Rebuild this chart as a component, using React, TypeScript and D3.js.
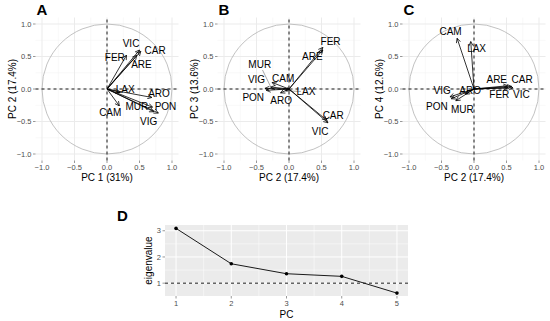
import React from 'react';
import * as d3 from 'd3';

// variable loadings on the first four PCs
const vars = ['VIC', 'CAR', 'FER', 'ARE', 'LAX', 'ARO', 'MUR', 'PON', 'VIG', 'CAM'];
const pc1 = [0.5, 0.52, 0.3, 0.46, 0.2, 0.69, 0.7, 0.72, 0.79, 0.19];
const pc2 = [0.6, 0.58, 0.52, 0.52, -0.05, -0.13, -0.28, -0.35, -0.37, -0.26];
const pc3 = [-0.52, -0.48, 0.64, 0.6, -0.03, -0.06, 0.03, -0.02, 0.01, 0.1];
const pc4 = [0.02, 0.04, 0.02, 0.05, 0.73, -0.08, -0.18, -0.15, -0.12, 0.78];

// text label anchor points (data units) for each panel
const labelsA = [[0.37, 0.7], [0.74, 0.59], [0.12, 0.49], [0.53, 0.38], [0.28, 0.0], [0.8, -0.07], [0.46, -0.27], [0.9, -0.27], [0.64, -0.5], [0.05, -0.36]];
const labelsB = [[0.48, -0.66], [0.68, -0.4], [0.64, 0.73], [0.36, 0.5], [0.26, -0.04], [-0.12, -0.18], [-0.45, 0.38], [-0.55, -0.13], [-0.5, 0.14], [-0.09, 0.16]];
const labelsC = [[0.73, -0.09], [0.74, 0.14], [0.39, -0.08], [0.35, 0.14], [0.04, 0.62], [-0.06, -0.03], [-0.18, -0.31], [-0.57, -0.27], [-0.49, -0.03], [-0.36, 0.88]];

// scree plot
const pcs = [1, 2, 3, 4, 5];
const eigenvalues = [3.09, 1.74, 1.36, 1.26, 0.62];

const FONT = 'Liberation Sans, Arial, sans-serif';
const ticks = [-1, -0.5, 0, 0.5, 1];
const minorTicks = [-0.75, -0.25, 0.25, 0.75];

type BiplotProps = {
  id: string;
  letter: string;
  cx: number;
  xs: number[];
  ys: number[];
  labels: number[][];
  xTitle: string;
  yTitle: string;
};

const Biplot = ({ id, letter, cx, xs, ys, labels, xTitle, yTitle }: BiplotProps) => {
  const x = d3.scaleLinear().domain([-1.1, 1.1]).range([cx - 71.5, cx + 71.5]);
  const y = d3.scaleLinear().domain([-1.1, 1.1]).range([160.5, 17.5]);
  const r = x(1) - x(0);
  const fmt = d3.format('.1f');
  return (
    <g>
      <defs>
        <marker id={`arr-${id}`} viewBox="0 0 10 10" refX="9" refY="5" markerWidth="5.5" markerHeight="5.5" orient="auto-start-reverse" markerUnits="userSpaceOnUse">
          <path d="M1,1 L9,5 L1,9" fill="none" stroke="#000" strokeWidth="1.3" />
        </marker>
      </defs>
      {minorTicks.map((t) => (
        <g key={`mi${t}`}>
          <line x1={x(t)} x2={x(t)} y1={y(-1.1)} y2={y(1.1)} stroke="#f0f0f0" strokeWidth={0.5} />
          <line x1={x(-1.1)} x2={x(1.1)} y1={y(t)} y2={y(t)} stroke="#f0f0f0" strokeWidth={0.5} />
        </g>
      ))}
      {ticks.map((t) => (
        <g key={`ma${t}`}>
          <line x1={x(t)} x2={x(t)} y1={y(-1.1)} y2={y(1.1)} stroke="#ebebeb" strokeWidth={1} />
          <line x1={x(-1.1)} x2={x(1.1)} y1={y(t)} y2={y(t)} stroke="#ebebeb" strokeWidth={1} />
        </g>
      ))}
      <circle cx={x(0)} cy={y(0)} r={r} fill="none" stroke="#b3b3b3" strokeWidth={0.8} />
      <line x1={x(0)} x2={x(0)} y1={y(-1.1)} y2={y(1.1)} stroke="#000" strokeWidth={0.9} strokeDasharray="3,3" />
      <line x1={x(-1.1)} x2={x(1.1)} y1={y(0)} y2={y(0)} stroke="#000" strokeWidth={0.9} strokeDasharray="3,3" />
      {xs.map((v, i) => {
        const lx = labels[i][0];
        const ly = labels[i][1];
        const d = Math.hypot(lx - v, ly - ys[i]);
        if (d < 0.3) return null;
        return (
          <line key={`seg${i}`} x1={x(lx + (v - lx) * 0.25)} y1={y(ly + (ys[i] - ly) * 0.25)} x2={x(v)} y2={y(ys[i])} stroke="#555" strokeWidth={0.5} />
        );
      })}
      {xs.map((v, i) => (
        <line key={`a${i}`} x1={x(0)} y1={y(0)} x2={x(v)} y2={y(ys[i])} stroke="#000" strokeWidth={0.8} markerEnd={`url(#arr-${id})`} />
      ))}
      {vars.map((name, i) => (
        <text key={`l${i}`} x={x(labels[i][0])} y={y(labels[i][1])} dy="0.35em" textAnchor="middle" fontSize={10} fontFamily={FONT} fill="#000">
          {name}
        </text>
      ))}
      {ticks.map((t) => (
        <g key={`tk${t}`}>
          <line x1={x(t)} x2={x(t)} y1={y(-1.1)} y2={y(-1.1) + 2.5} stroke="#333" strokeWidth={0.5} />
          <text x={x(t)} y={y(-1.1) + 9} textAnchor="middle" fontSize={7.5} fontFamily={FONT} fill="#4d4d4d">{fmt(t)}</text>
          <line x1={x(-1.1) - 2.5} x2={x(-1.1)} y1={y(t)} y2={y(t)} stroke="#333" strokeWidth={0.5} />
          <text x={x(-1.1) - 4} y={y(t)} dy="0.35em" textAnchor="end" fontSize={7.5} fontFamily={FONT} fill="#4d4d4d">{fmt(t)}</text>
        </g>
      ))}
      <text x={x(0)} y={181} textAnchor="middle" fontSize={10} fontFamily={FONT} fill="#000">{xTitle}</text>
      <text transform={`translate(${x(-1.1) - 20},${y(0)}) rotate(-90)`} textAnchor="middle" fontSize={10} fontFamily={FONT} fill="#000">{yTitle}</text>
      <text x={x(-1.1) + 1} y={15} fontSize={15} fontWeight="bold" fontFamily={FONT} fill="#000">{letter}</text>
    </g>
  );
};

const Scree = () => {
  const x = d3.scaleLinear().domain([0.8, 5.2]).range([165, 408]);
  const y = d3.scaleLinear().domain([0.51, 3.22]).range([296, 225]);
  const line = d3.line<number>().x((_, i) => x(pcs[i])).y((d) => y(d));
  const xMinor = [1.5, 2.5, 3.5, 4.5];
  const yMajor = [1, 2, 3];
  const yMinor = [1.5, 2.5];
  return (
    <g>
      <rect x={x(0.8)} y={y(3.22)} width={x(5.2) - x(0.8)} height={y(0.51) - y(3.22)} fill="#ebebeb" />
      {xMinor.map((t) => (
        <line key={`xm${t}`} x1={x(t)} x2={x(t)} y1={y(0.51)} y2={y(3.22)} stroke="#fff" strokeWidth={0.5} />
      ))}
      {yMinor.map((t) => (
        <line key={`ym${t}`} x1={x(0.8)} x2={x(5.2)} y1={y(t)} y2={y(t)} stroke="#fff" strokeWidth={0.5} />
      ))}
      {pcs.map((t) => (
        <line key={`xM${t}`} x1={x(t)} x2={x(t)} y1={y(0.51)} y2={y(3.22)} stroke="#fff" strokeWidth={1} />
      ))}
      {yMajor.map((t) => (
        <line key={`yM${t}`} x1={x(0.8)} x2={x(5.2)} y1={y(t)} y2={y(t)} stroke="#fff" strokeWidth={1} />
      ))}
      <line x1={x(0.8)} x2={x(5.2)} y1={y(1)} y2={y(1)} stroke="#000" strokeWidth={0.9} strokeDasharray="3,3" />
      <path d={line(eigenvalues) ?? ''} fill="none" stroke="#1a1a1a" strokeWidth={1} />
      {eigenvalues.map((v, i) => (
        <circle key={`p${i}`} cx={x(pcs[i])} cy={y(v)} r={1.8} fill="#000" />
      ))}
      {pcs.map((t) => (
        <g key={`xt${t}`}>
          <line x1={x(t)} x2={x(t)} y1={y(0.51)} y2={y(0.51) + 2.5} stroke="#333" strokeWidth={0.5} />
          <text x={x(t)} y={y(0.51) + 10} textAnchor="middle" fontSize={7.5} fontFamily={FONT} fill="#4d4d4d">{t}</text>
        </g>
      ))}
      {yMajor.map((t) => (
        <g key={`yt${t}`}>
          <line x1={x(0.8) - 2.5} x2={x(0.8)} y1={y(t)} y2={y(t)} stroke="#333" strokeWidth={0.5} />
          <text x={x(0.8) - 4} y={y(t)} dy="0.35em" textAnchor="end" fontSize={7.5} fontFamily={FONT} fill="#4d4d4d">{t}</text>
        </g>
      ))}
      <text x={(x(0.8) + x(5.2)) / 2} y={318} textAnchor="middle" fontSize={10} fontFamily={FONT} fill="#000">PC</text>
      <text transform={`translate(${x(0.8) - 13.5},${(y(0.51) + y(3.22)) / 2}) rotate(-90)`} textAnchor="middle" fontSize={10} fontFamily={FONT} fill="#000">eigenvalue</text>
      <text x={117} y={221} fontSize={15} fontWeight="bold" fontFamily={FONT} fill="#000">D</text>
    </g>
  );
};

const App = () => (
  <svg width={550} height={321} style={{ position: 'absolute', left: 0, top: 0, background: '#fff' }}>
    <rect width={550} height={321} fill="#fff" />
    <Biplot id="a" letter="A" cx={107} xs={pc1} ys={pc2} labels={labelsA} xTitle="PC 1 (31%)" yTitle="PC 2 (17.4%)" />
    <Biplot id="b" letter="B" cx={289} xs={pc2} ys={pc3} labels={labelsB} xTitle="PC 2 (17.4%)" yTitle="PC 3 (13.6%)" />
    <Biplot id="c" letter="C" cx={474} xs={pc2} ys={pc4} labels={labelsC} xTitle="PC 2 (17.4%)" yTitle="PC 4 (12.6%)" />
    <Scree />
  </svg>
);

export default App;
